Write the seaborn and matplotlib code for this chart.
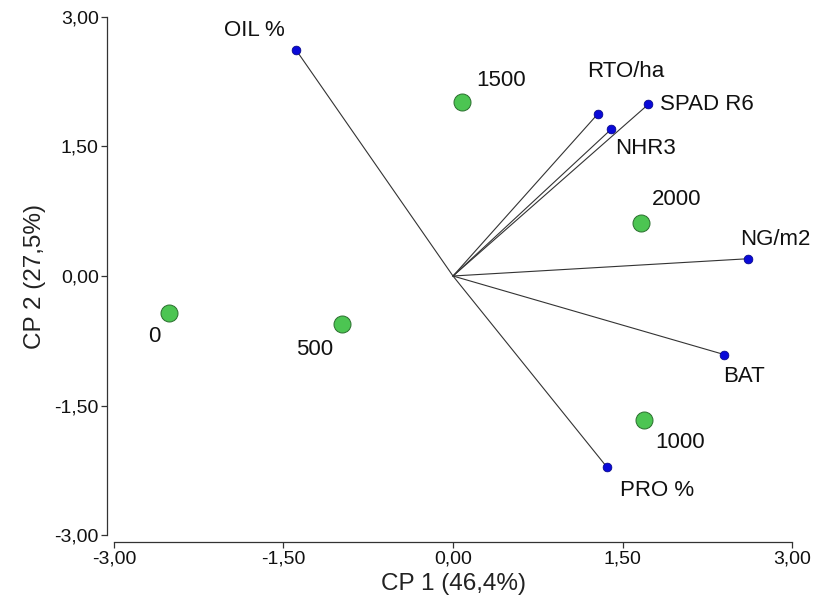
import numpy as np
import pandas as pd
import matplotlib
matplotlib.use("Agg")
import matplotlib.pyplot as plt
import seaborn as sns

# treatment scores (green) and variable loadings (blue)
doses = ["0", "500", "1000", "1500", "2000"]
dose_cp1 = [-2.51, -0.98, 1.69, 0.08, 1.66]
dose_cp2 = [-0.43, -0.56, -1.67, 2.01, 0.61]

variables = ["OIL %", "RTO/ha", "SPAD R6", "NHR3", "NG/m2", "BAT", "PRO %"]
var_cp1 = [-1.39, 1.28, 1.73, 1.40, 2.61, 2.40, 1.36]
var_cp2 = [2.62, 1.875, 1.99, 1.70, 0.20, -0.91, -2.21]

ticks = [-3.0, -1.5, 0.0, 1.5, 3.0]

# label offsets in points (placement only)
dose_off = {"0": (-11, -17), "500": (-20, -18), "1000": (26, -16),
            "1500": (28, 16), "2000": (26, 17)}
var_off = {"OIL %": (-30, 14), "RTO/ha": (20, 31), "SPAD R6": (42, 0),
           "NHR3": (25, -14), "NG/m2": (20, 14), "BAT": (14, -16),
           "PRO %": (36, -17)}

doses_df = pd.DataFrame({"cp1": dose_cp1, "cp2": dose_cp2, "dose": doses})
vars_df = pd.DataFrame({"cp1": var_cp1, "cp2": var_cp2, "var": variables})

sns.set_style("ticks")
plt.rcParams["font.family"] = ["Liberation Sans", "DejaVu Sans"]

fig = plt.figure(figsize=(8.16, 6.13), dpi=100)
ax = fig.add_axes([0.1397, 0.1272, 0.8309, 0.8451])

for _, r in vars_df.iterrows():
    ax.plot([0, r.cp1], [0, r.cp2], color="#333333", lw=0.8, zorder=1)

sns.scatterplot(data=vars_df, x="cp1", y="cp2", ax=ax, color="#0a0ad8",
                edgecolor="#000080", linewidth=0.5, s=40, zorder=3)
sns.scatterplot(data=doses_df, x="cp1", y="cp2", ax=ax, color="#4cc552",
                edgecolor="#2a6e2e", linewidth=0.7, s=150, zorder=3)

for _, r in vars_df.iterrows():
    ax.annotate(r["var"], (r.cp1, r.cp2), xytext=var_off[r["var"]],
                textcoords="offset points", ha="center", va="center",
                fontsize=16, color="#111111")
for _, r in doses_df.iterrows():
    ax.annotate(r["dose"], (r.cp1, r.cp2), xytext=dose_off[r["dose"]],
                textcoords="offset points", ha="center", va="center",
                fontsize=16, color="#111111")

# offset spines first: moving a spine resets the tick settings
sns.despine(ax=ax, offset=5)
for sp in ["left", "bottom"]:
    ax.spines[sp].set_linewidth(0.9)
    ax.spines[sp].set_color("#333333")

ax.set_xlim(-3, 3)
ax.set_ylim(-3, 3)
ax.set_xticks(ticks)
ax.set_yticks(ticks)
fmt = lambda v: f"{v:.2f}".replace(".", ",")
ax.set_xticklabels([fmt(t) for t in ticks], fontsize=14)
ax.set_yticklabels([fmt(t) for t in ticks], fontsize=14)
ax.tick_params(length=4, width=0.9, color="#333333", pad=2, labelcolor="#111111")
ax.set_xlabel("CP 1 (46,4%)", fontsize=17.5, labelpad=4, color="#222222")
ax.set_ylabel("CP 2 (27,5%)", fontsize=17.5, labelpad=6, color="#222222")

fig.savefig("out.png", dpi=100)
